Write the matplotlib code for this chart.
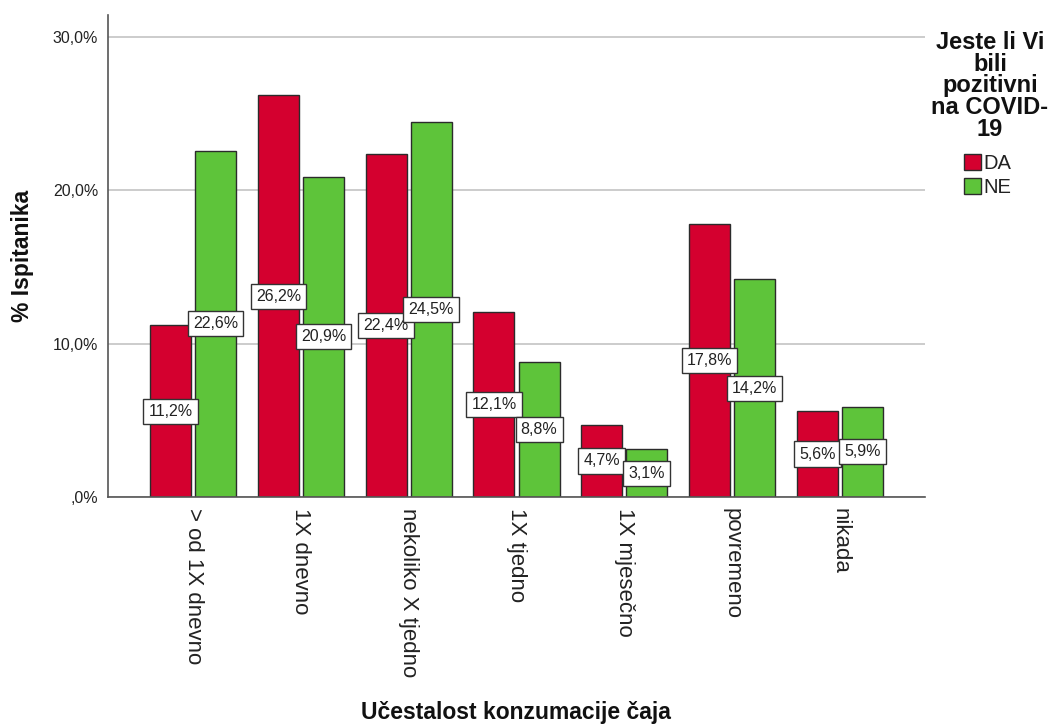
import matplotlib
matplotlib.use("Agg")
import matplotlib.pyplot as plt
import numpy as np

plt.rcParams['font.family'] = ['Liberation Sans', 'DejaVu Sans']

categories = ["> od 1X dnevno", "1X dnevno", "nekoliko X tjedno", "1X tjedno",
              "1X mjesečno", "povremeno", "nikada"]
series_names = ["DA", "NE"]
da_values = [11.2, 26.2, 22.4, 12.1, 4.7, 17.8, 5.6]
ne_values = [22.6, 20.9, 24.5, 8.8, 3.1, 14.2, 5.9]
yticks = [0, 10, 20, 30]
ytick_labels = [",0%", "10,0%", "20,0%", "30,0%"]
legend_title = "Jeste li Vi\nbili\npozitivni\nna COVID-\n19"
x_title = "Učestalost konzumacije čaja"
y_title = "% Ispitanika"

red = "#D4002F"
green = "#5EC43A"
edge = "#2b2b2b"

W, H = 1051, 727
fig = plt.figure(figsize=(W / 100, H / 100), dpi=100)
ax = fig.add_axes([108 / W, 1 - 497 / H, (925 - 108) / W, (497 - 15) / H])

x = np.arange(len(categories))
bw = 0.38
off = 0.209
b1 = ax.bar(x - off, da_values, bw, color=red, edgecolor=edge, linewidth=1.0, zorder=3, label=series_names[0])
b2 = ax.bar(x + off, ne_values, bw, color=green, edgecolor=edge, linewidth=1.0, zorder=3, label=series_names[1])

def fmt(v):
    return f"{v:.1f}".replace(".", ",") + "%"

for bars, vals in ((b1, da_values), (b2, ne_values)):
    for rect, v in zip(bars, vals):
        ax.text(rect.get_x() + rect.get_width() / 2, v / 2, fmt(v),
                ha="center", va="center", fontsize=11.5, color="#222222", zorder=5,
                bbox=dict(boxstyle="square,pad=0.32", fc="white", ec="#333333", lw=1.0))

ax.set_xlim(-0.789, len(categories) - 1 + 0.789)
ax.set_ylim(0, 31.45)
ax.set_yticks(yticks)
ax.set_yticklabels(ytick_labels, fontsize=11.5, color="#222222")
ax.set_xticks(x)
ax.set_xticklabels(categories, rotation=-90, fontsize=16, color="#222222", va="top", ha="center")
ax.tick_params(axis="both", length=0)
ax.tick_params(axis="y", pad=7)
ax.tick_params(axis="x", pad=8)

ax.grid(axis="y", color="#c8c8c8", lw=1.3, zorder=0)
for s in ("top", "right"):
    ax.spines[s].set_visible(False)
for s in ("left", "bottom"):
    ax.spines[s].set_color("#555555")
    ax.spines[s].set_linewidth(1.2)
    ax.spines[s].set_zorder(4)

fig.text(22 / W, 1 - 256 / H, y_title, rotation=90, ha="center", va="center",
         fontsize=16.5, fontweight="bold", color="#111111")
fig.text(516 / W, 1 - 712 / H, x_title, ha="center", va="center",
         fontsize=16.5, fontweight="bold", color="#111111")

# legend title
fig.text(990 / W, 1 - 31 / H, legend_title, ha="center", va="top", multialignment="center",
         fontsize=17, fontweight="bold", color="#111111", linespacing=0.93)

leg = ax.legend(handles=[b1, b2], labels=series_names,
                loc="upper left", bbox_to_anchor=(964 / W, 1 - 154 / H),
                bbox_transform=fig.transFigure, frameon=False, borderpad=0,
                borderaxespad=0,
                fontsize=14.5, handlelength=0.85, handleheight=0.85, handletextpad=0.12,
                labelspacing=0.25)
for t in leg.get_texts():
    t.set_color("#222222")

fig.savefig("out.png", dpi=100)
